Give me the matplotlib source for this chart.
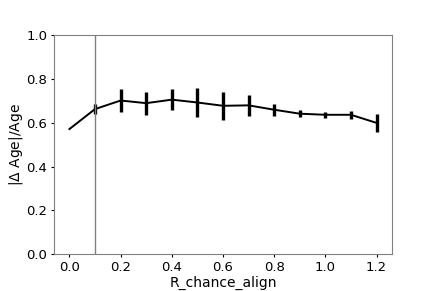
import numpy as np
import matplotlib
matplotlib.use("Agg")
import matplotlib.pyplot as plt

r_chance = [0.0, 0.1, 0.2, 0.3, 0.4, 0.5, 0.6, 0.7, 0.8, 0.9, 1.0, 1.1, 1.2]
age_err = [0.571, 0.662, 0.701, 0.689, 0.705, 0.692, 0.677, 0.679, 0.659, 0.641, 0.636, 0.636, 0.599]
age_err_std = [0.0, 0.024, 0.051, 0.053, 0.049, 0.067, 0.064, 0.049, 0.027, 0.015, 0.014, 0.017, 0.042]
chosen_r = 0.1

fig, ax = plt.subplots(figsize=(4.36, 2.91), dpi=100)
fig.subplots_adjust(left=0.124, right=0.899, top=0.88, bottom=0.126)
ax.errorbar(r_chance, age_err, yerr=age_err_std, color='k', lw=1.4, elinewidth=2.4)
ax.axvline(chosen_r, color='gray', lw=1, zorder=5)
ax.set_ylim(0, 1)
ax.set_xlabel("R_chance_align", fontsize=10, labelpad=1)
ax.set_ylabel("|$\\Delta$ Age|/Age", fontsize=10, labelpad=1)
for s in ax.spines.values():
    s.set_color('gray')
ax.tick_params(colors='k', labelsize=9.5, length=2.5, pad=2.5)
fig.savefig("out.png")
